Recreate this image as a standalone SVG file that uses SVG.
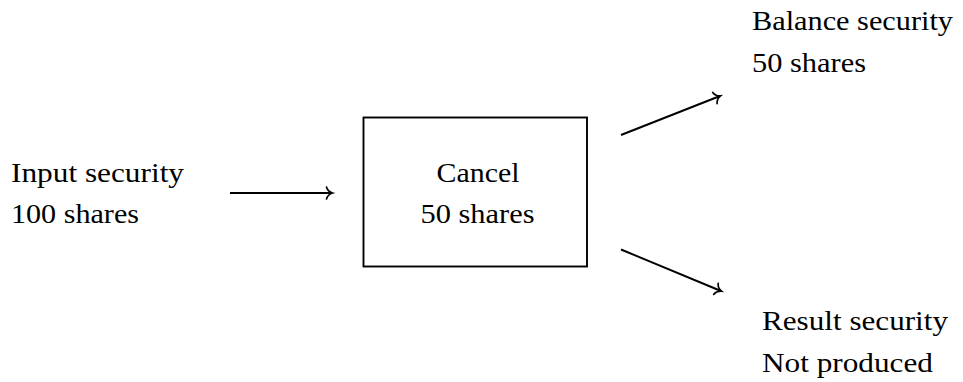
<svg xmlns="http://www.w3.org/2000/svg" width="963" height="382" viewBox="0 0 963 382">
  <style>
    text { font-family: "Liberation Serif", "Times New Roman", serif; font-size: 28px; fill: #000; }
    .edge { stroke: #000; stroke-width: 1.9; fill: none; marker-end: url(#tip); }
    .box { stroke: #000; stroke-width: 1.9; fill: #fff; }
  </style>
  <defs>
    <!-- curved open arrowhead -->
    <marker id="tip" markerUnits="userSpaceOnUse" orient="auto" markerWidth="16" markerHeight="16" viewBox="-8 -8 16 16" refX="0" refY="0" overflow="visible">
      <path d="M-5.5,-6 C-4.5,-2.5 -1.5,-0.6 0.5,0 C-1.5,0.6 -4.5,2.5 -5.5,6" fill="none" stroke="#000" stroke-width="1.7" stroke-linecap="round"/>
    </marker>
  </defs>

  <g id="input">
    <text x="11" y="182" textLength="173" lengthAdjust="spacingAndGlyphs">Input security</text>
    <text x="11" y="223" textLength="128" lengthAdjust="spacingAndGlyphs">100 shares</text>
  </g>

  <g id="cancel">
    <rect class="box" x="363.5" y="117.5" width="223.5" height="149"/>
    <text x="478" y="182" text-anchor="middle" textLength="83" lengthAdjust="spacingAndGlyphs">Cancel</text>
    <text x="477.5" y="223" text-anchor="middle" textLength="114" lengthAdjust="spacingAndGlyphs">50 shares</text>
  </g>

  <g id="balance">
    <text x="752" y="30" textLength="201" lengthAdjust="spacingAndGlyphs">Balance security</text>
    <text x="752" y="72" textLength="114" lengthAdjust="spacingAndGlyphs">50 shares</text>
  </g>

  <g id="result">
    <text x="762" y="329.5" textLength="186" lengthAdjust="spacingAndGlyphs">Result security</text>
    <text x="762" y="371.5" textLength="171" lengthAdjust="spacingAndGlyphs">Not produced</text>
  </g>

  <g id="connectors">
    <line class="edge" x1="230" y1="193" x2="332" y2="193"/>
    <line class="edge" x1="621" y1="135" x2="720" y2="96"/>
    <line class="edge" x1="621" y1="249.5" x2="721" y2="291"/>
  </g>
</svg>
